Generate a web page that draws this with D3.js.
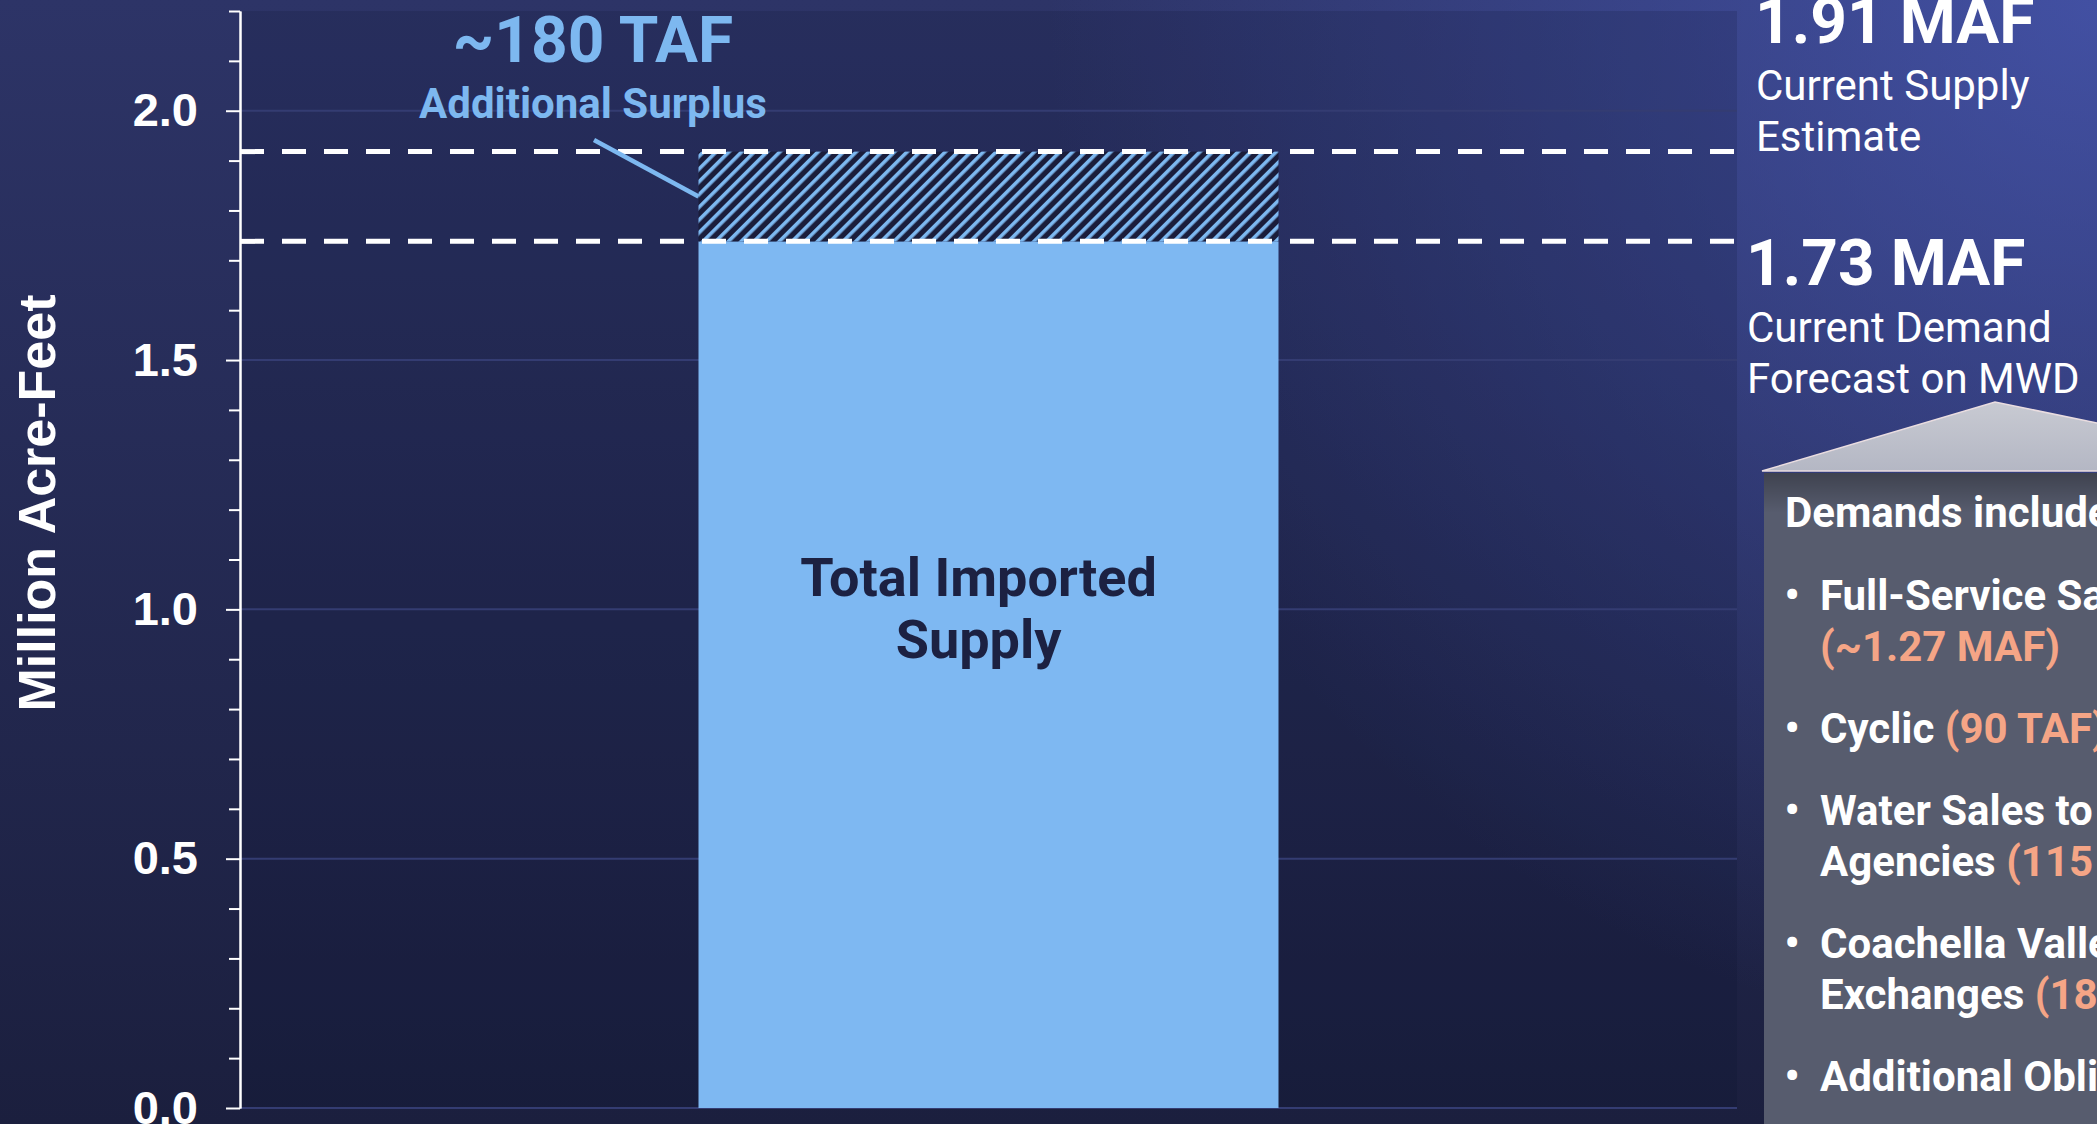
<!DOCTYPE html>
<html><head><meta charset="utf-8">
<script src="https://cdn.jsdelivr.net/npm/d3@7"></script>
<style>html,body{margin:0;padding:0;background:#1e2246;overflow:hidden}</style>
</head><body><svg id="c" width="2097" height="1124"></svg>
<script>
// ---- data ----
const categories = ["Total Imported Supply"];
const demandValues = [1.738];
const surplusValues = [0.18];
const yMajorTicks = [0, 0.5, 1.0, 1.5, 2.0];
const yDomain = [0, 2.2];
const referenceLines = [1.918, 1.738];
const refValueLabels = ["1.91 MAF", "1.73 MAF"];
const refDescLines = [["Current Supply", "Estimate"], ["Current Demand", "Forecast on MWD"]];
const surplusLabels = ["~180 TAF", "Additional Surplus"];
const barLabelLines = ["Total Imported", "Supply"];
const yTitle = "Million Acre-Feet";
const calloutTitle = "Demands include:";
const calloutItems = [
  [[["Full-Service Sales", false]], [["(~1.27 MAF)", true]]],
  [[["Cyclic ", false], ["(90 TAF)", true]]],
  [[["Water Sales to Other", false]], [["Agencies ", false], ["(115 TAF)", true]]],
  [[["Coachella Valley", false]], [["Exchanges ", false], ["(180 TAF)", true]]],
  [[["Additional Obligations", false]]]
];

// ---- setup ----
const W = 2097, H = 1124;
const PL = 240, PR = 1737, PT = 11, PB = 1108;
const svg = d3.select("#c");
const defs = svg.append("defs");

const bgV = defs.append("linearGradient").attr("id", "bgV").attr("x1", 0).attr("y1", 0).attr("x2", 0).attr("y2", 1);
bgV.append("stop").attr("offset", 0).attr("stop-color", "#2d3467");
bgV.append("stop").attr("offset", 1).attr("stop-color", "#1b1f3e");
const bgR = defs.append("radialGradient").attr("id", "bgR").attr("gradientUnits", "userSpaceOnUse")
  .attr("cx", W).attr("cy", 0).attr("r", 1050);
bgR.append("stop").attr("offset", 0).attr("stop-color", "#4b5cbc").attr("stop-opacity", 0.7);
bgR.append("stop").attr("offset", 1).attr("stop-color", "#4b5cbc").attr("stop-opacity", 0);

const hatch = defs.append("pattern").attr("id", "hatch").attr("patternUnits", "userSpaceOnUse")
  .attr("width", 9).attr("height", 9).attr("patternTransform", "rotate(45)");
hatch.append("rect").attr("width", 9).attr("height", 9).attr("fill", "#1a1d3b");
hatch.append("rect").attr("x", 0).attr("width", 3.6).attr("height", 9).attr("fill", "#7db8f0");

const triG = defs.append("linearGradient").attr("id", "triG").attr("x1", 0).attr("y1", 0).attr("x2", 0).attr("y2", 1);
triG.append("stop").attr("offset", 0).attr("stop-color", "#c8cad2");
triG.append("stop").attr("offset", 1).attr("stop-color", "#b4b7c4");
const shG = defs.append("linearGradient").attr("id", "shG").attr("x1", 0).attr("y1", 0).attr("x2", 0).attr("y2", 1);
shG.append("stop").attr("offset", 0).attr("stop-color", "#000").attr("stop-opacity", 0.28);
shG.append("stop").attr("offset", 1).attr("stop-color", "#000").attr("stop-opacity", 0);

svg.append("rect").attr("width", W).attr("height", H).attr("fill", "url(#bgV)");
svg.append("rect").attr("width", W).attr("height", H).attr("fill", "url(#bgR)");

// ---- scales ----
const y = d3.scaleLinear().domain(yDomain).range([PB, PT]);
const x = d3.scaleBand().domain(categories).range([PL, PR]).padding(0.4415);

// plot area
svg.append("rect").attr("x", PL).attr("y", PT).attr("width", PR - PL).attr("height", PB - PT)
  .attr("fill", "#0a0c26").attr("opacity", 0.15);

// grid
svg.append("g").selectAll("line").data(yMajorTicks).join("line")
  .attr("x1", PL).attr("x2", PR).attr("y1", d => y(d)).attr("y2", d => y(d))
  .attr("stroke", "#343c72").attr("stroke-width", 2);

// bars
const rows = categories.map((c, i) => ({ c, demand: demandValues[i], surplus: surplusValues[i] }));
svg.append("g").selectAll("rect").data(rows).join("rect")
  .attr("x", d => x(d.c)).attr("width", x.bandwidth())
  .attr("y", d => y(d.demand)).attr("height", d => y(0) - y(d.demand))
  .attr("fill", "#7eb8f2");
svg.append("g").selectAll("rect").data(rows).join("rect")
  .attr("x", d => x(d.c)).attr("width", x.bandwidth())
  .attr("y", d => y(d.demand + d.surplus)).attr("height", d => y(d.demand) - y(d.demand + d.surplus))
  .attr("fill", "url(#hatch)");

// bar label
const bl = svg.append("text").attr("font-family", "Roboto").attr("font-weight", 700)
  .attr("font-size", 54).attr("fill", "#1c2142").attr("text-anchor", "middle");
barLabelLines.forEach((t, i) => bl.append("tspan")
  .attr("x", x(categories[0]) + x.bandwidth() / 2 - 10).attr("y", 596 + i * 62).text(t));

// reference dashed lines
svg.append("g").selectAll("line").data(referenceLines).join("line")
  .attr("x1", PL).attr("x2", PR).attr("y1", d => y(d)).attr("y2", d => y(d))
  .attr("stroke", "#ffffff").attr("stroke-width", 5).attr("stroke-dasharray", "24 18");

// axis
const minorTicks = d3.range(1, 23).filter(i => i % 5 !== 0).map(i => i / 10);
const gMinor = svg.append("g").attr("transform", `translate(${PL},0)`)
  .call(d3.axisLeft(y).tickValues(minorTicks).tickSize(11).tickSizeOuter(0).tickFormat(""));
const gAxis = svg.append("g").attr("transform", `translate(${PL},0)`)
  .call(d3.axisLeft(y).tickValues(yMajorTicks).tickSize(14).tickSizeOuter(0).tickPadding(28).tickFormat(d3.format(".1f")));
[gMinor, gAxis].forEach(g => {
  g.selectAll("path, line").attr("stroke", "#ffffff").attr("stroke-width", 2);
  g.selectAll("text").attr("fill", "#ffffff").attr("font-family", "Liberation Sans, Arial")
    .attr("font-weight", 700).attr("font-size", 47);
});

svg.append("text").attr("transform", "translate(37,503) rotate(-90)")
  .attr("text-anchor", "middle").attr("dominant-baseline", "central")
  .attr("font-family", "Liberation Sans, Arial").attr("font-weight", 700).attr("font-size", 52)
  .attr("fill", "#ffffff").text(yTitle);

// surplus annotation
svg.append("text").attr("x", 593).attr("y", 62).attr("text-anchor", "middle")
  .attr("font-family", "Roboto").attr("font-weight", 700).attr("font-size", 64)
  .attr("fill", "#7db8f0").text(surplusLabels[0]);
svg.append("text").attr("x", 593).attr("y", 118).attr("text-anchor", "middle")
  .attr("font-family", "Roboto").attr("font-weight", 700).attr("font-size", 42)
  .attr("fill", "#7db8f0").text(surplusLabels[1]);
svg.append("line").attr("x1", 594).attr("y1", 140)
  .attr("x2", x(categories[0])).attr("y2", y(demandValues[0] + surplusValues[0] / 2))
  .attr("stroke", "#7db8f0").attr("stroke-width", 4.5);

// right-side labels
const refPos = [{ x: 1755, y: 43 }, { x: 1746, y: 285 }];
refValueLabels.forEach((t, i) => {
  svg.append("text").attr("x", refPos[i].x).attr("y", refPos[i].y)
    .attr("font-family", "Roboto").attr("font-weight", 700).attr("font-size", 64)
    .attr("fill", "#ffffff").text(t);
  refDescLines[i].forEach((d, j) => svg.append("text").attr("x", refPos[i].x + 1)
    .attr("y", refPos[i].y + 57 + j * 51)
    .attr("font-family", "Roboto").attr("font-weight", 400).attr("font-size", 42)
    .attr("fill", "#ffffff").text(d));
});

// callout
svg.append("polygon").attr("points", "1762,471 1995,402 2330,471")
  .attr("fill", "url(#triG)").attr("stroke", "#eadde0").attr("stroke-width", 1.5);
svg.append("rect").attr("x", 1764).attr("y", 473).attr("width", 400).attr("height", 700).attr("fill", "#575c6e");
svg.append("rect").attr("x", 1764).attr("y", 473).attr("width", 400).attr("height", 40).attr("fill", "url(#shG)");

svg.append("text").attr("x", 1785).attr("y", 527)
  .attr("font-family", "Roboto").attr("font-weight", 700).attr("font-size", 42)
  .attr("fill", "#ffffff").text(calloutTitle);
let by = 610;
calloutItems.forEach(item => {
  svg.append("text").attr("x", 1792).attr("y", by).attr("text-anchor", "middle")
    .attr("font-family", "Roboto").attr("font-weight", 700).attr("font-size", 42)
    .attr("fill", "#ffffff").text("•");
  item.forEach((line, li) => {
    const t = svg.append("text").attr("x", 1820).attr("y", by + li * 51)
      .attr("font-family", "Roboto").attr("font-weight", 700).attr("font-size", 42);
    line.forEach(([s, hl]) => t.append("tspan").attr("fill", hl ? "#f5a586" : "#ffffff").text(s));
  });
  by += (item.length - 1) * 51 + 82;
});
</script></body></html>
